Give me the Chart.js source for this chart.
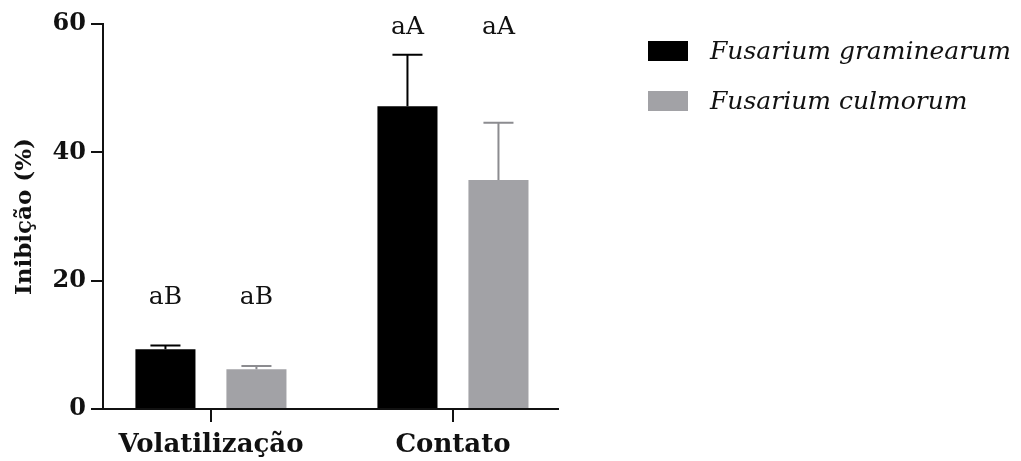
<!DOCTYPE html>
<html>
<head>
<meta charset="utf-8">
<script src="https://cdn.jsdelivr.net/npm/chart.js@4.4.1/dist/chart.umd.min.js"></script>
<style>
  html, body { margin: 0; padding: 0; background: #fff; }
  #wrap { width: 1021px; height: 461px; }
</style>
</head>
<body>
<div id="wrap"><canvas id="inibChart" width="1021" height="461"></canvas></div>
<script>
// dados
const categories = ['Volatilização', 'Contato'];
const seriesNames = ['Fusarium graminearum', 'Fusarium culmorum'];
const graminearum = [9.3, 47.2];
const graminearumErr = [0.6, 8.0];
const culmorum = [6.2, 35.7];
const culmorumErr = [0.5, 8.9];
const graminearumLetters = ['aB', 'aA'];
const culmorumLetters = ['aB', 'aA'];
const letterLevel = [17.3, 59.4];
const yTicks = [0, 20, 40, 60];

const colors = ['#000000', '#a2a2a6'];
const errColors = ['#000000', '#8c8c90'];
const values = [graminearum, culmorum];
const errors = [graminearumErr, culmorumErr];
const letters = [graminearumLetters, culmorumLetters];

Chart.defaults.font.family = "'DejaVu Serif', serif";
Chart.defaults.color = '#111';

// barras de erro (só a parte de cima) + letras
const errorBars = {
    id: 'errorBars',
    afterDatasetsDraw(chart) {
        const ctx = chart.ctx;
        const y = chart.scales.y;
        ctx.save();
        chart.data.datasets.forEach((ds, di) => {
            const meta = chart.getDatasetMeta(di);
            meta.data.forEach((bar, i) => {
                const top = y.getPixelForValue(values[di][i] + errors[di][i]);
                const half = bar.width / 4;
                ctx.strokeStyle = errColors[di];
                ctx.lineWidth = 2;
                ctx.beginPath();
                ctx.moveTo(bar.x, bar.y);
                ctx.lineTo(bar.x, top);
                ctx.moveTo(bar.x - half, top);
                ctx.lineTo(bar.x + half, top);
                ctx.stroke();

                ctx.fillStyle = '#111';
                ctx.font = "25px 'DejaVu Serif', serif";
                ctx.textAlign = 'center';
                ctx.textBaseline = 'middle';
                ctx.fillText(letters[di][i], bar.x, y.getPixelForValue(letterLevel[i]));
            });
        });
        ctx.restore();
    }
};

// legenda desenhada à direita
const sideLegend = {
    id: 'sideLegend',
    afterDraw(chart) {
        const ctx = chart.ctx;
        ctx.save();
        chart.data.datasets.forEach((ds, di) => {
            const top = 41 + di * 50;
            ctx.fillStyle = ds.backgroundColor;
            ctx.fillRect(648, top, 40, 20);
            ctx.fillStyle = '#111';
            ctx.font = "italic 25px 'DejaVu Serif', serif";
            ctx.textAlign = 'left';
            ctx.textBaseline = 'middle';
            ctx.fillText(ds.label, 710, top + 11);
        });
        ctx.restore();
    }
};

const ctx = document.getElementById('inibChart');
new Chart(ctx, {
    type: 'bar',
    data: {
        datasets: seriesNames.map((name, di) => ({
            label: name,
            data: categories.map((c, i) => ({ x: i, y: values[di][i] })),
            backgroundColor: colors[di],
            borderWidth: 0,
            categoryPercentage: 0.752,
            barPercentage: 0.66
        }))
    },
    options: {
        responsive: false,
        animation: false,
        layout: { padding: { left: 0, right: 463, top: 24, bottom: 0 } },
        plugins: {
            legend: { display: false },
            tooltip: { enabled: false }
        },
        scales: {
            x: {
                type: 'linear',
                offset: false,
                min: -0.446,
                max: 1.434,
                afterBuildTicks: (s) => { s.ticks = categories.map((c, i) => ({ value: i })); },
                afterFit: (s) => { s.height = 52; },
                border: { color: '#111', width: 2 },
                grid: { offset: false, drawOnChartArea: false, drawTicks: true, tickLength: 13, color: '#111', lineWidth: 2 },
                ticks: {
                    padding: 8,
                    maxRotation: 0,
                    autoSkip: false,
                    font: { size: 26, weight: 'bold' },
                    callback: (v) => categories[v]
                }
            },
            y: {
                min: yTicks[0],
                max: yTicks[yTicks.length - 1],
                afterFit: (s) => { s.width = 103; },
                border: { color: '#111', width: 2 },
                grid: { drawOnChartArea: false, drawTicks: true, tickLength: 12, color: '#111', lineWidth: 2 },
                ticks: {
                    stepSize: 20,
                    padding: 5,
                    font: { size: 24, weight: 'bold' }
                },
                title: {
                    display: true,
                    text: 'Inibição (%)',
                    padding: { top: 11, bottom: 0 },
                    font: { size: 23, weight: 'bold' }
                }
            }
        }
    },
    plugins: [errorBars, sideLegend]
});
</script>
</body>
</html>
